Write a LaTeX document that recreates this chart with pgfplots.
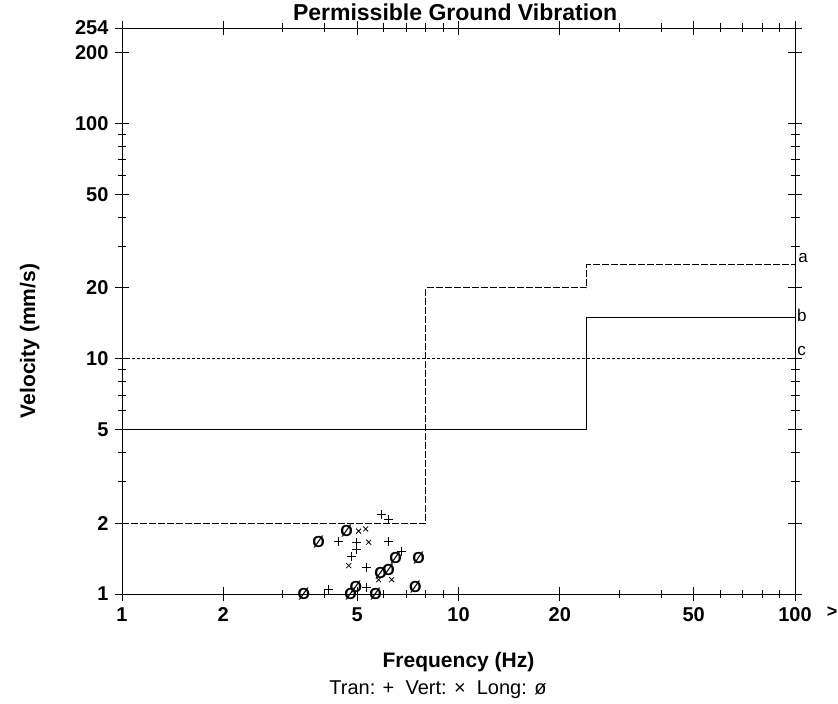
\documentclass[border=0pt]{standalone}
\usepackage{fontspec}
\setmainfont{Liberation Sans}
\usepackage{pgfplots}
\pgfplotsset{compat=1.18}

\begin{document}
\begin{tikzpicture}
\path[use as bounding box] (-122pt,-110pt) rectangle (716pt,594pt);
\begin{loglogaxis}[
	at={(0pt,0pt)}, anchor=south west,
	scale only axis, width=673pt, height=566pt,
	xmin=1, xmax=100, ymin=1, ymax=254,
	xtick={1,2,5,10,20,50,100}, xticklabels={1,2,5,10,20,50,100},
	minor xtick={3,4,6,7,8,9,30,40,60,70,80,90},
	ytick={1,2,5,10,20,50,100,200,254},
	yticklabels={1,2,5,10,20,50,100,200,254},
	minor ytick={3,4,6,7,8,9,30,40,60,70,80,90},
	tick align=center, major tick length=14pt, minor tick length=9pt,
	every tick/.style={black, line width=0.8pt},
	axis line style={line width=0.9pt},
	tick label style={font=\fontsize{20}{22}\selectfont\bfseries},
	yticklabel style={xshift=-3pt},
	xticklabel style={yshift=-3pt},
	title={Permissible Ground Vibration},
	title style={font=\fontsize{23}{26}\selectfont\bfseries,
		at={(rel axis cs:0.495,1.0018)}, anchor=base},
	xlabel={Frequency (Hz)},
	xlabel style={font=\fontsize{21}{24}\selectfont\bfseries,
		at={(rel axis cs:0.5,-0.12)}, anchor=center},
	ylabel={Velocity (mm/s)},
	ylabel style={font=\fontsize{21}{24}\selectfont\bfseries,
		at={(rel axis cs:-0.137,0.447)}, anchor=center},
	clip mode=individual,
]
% limit curves
\addplot[black, line width=1pt, dash pattern=on 7pt off 2pt] coordinates {
	(1,2) (8,2) (8,20) (24,20) (24,25) (100,25)};
\addplot[black, line width=1pt] coordinates {
	(1,5) (24,5) (24,15) (100,15)};
\addplot[black, line width=1pt, dash pattern=on 3pt off 2pt] coordinates {
	(1,10) (100,10)};

% Tran
\addplot[only marks, mark=+, mark size=4.5pt, mark options={black, line width=1pt}] coordinates {
	(5.91,2.18) (6.20,2.07) (4.40,1.67) (4.98,1.66) (6.20,1.67)
	(4.98,1.55) (4.81,1.45) (6.77,1.51) (5.33,1.30) (4.11,1.05) (5.33,1.07)};
% Vert
\addplot[only marks, mark=x, mark size=3.5pt, mark options={black, line width=0.8pt}] coordinates {
	(5.05,1.85) (5.30,1.89) (5.41,1.66) (6.33,1.15) (5.79,1.15) (4.72,1.32)};
% Long
\addplot[only marks, mark=text, text mark={Ø}, text mark as node=true,
	text mark style={font=\fontsize{16}{16}\selectfont\bfseries, inner sep=0pt}]
	coordinates {
	(4.65,1.85) (3.84,1.67) (6.50,1.42) (7.61,1.42) (5.87,1.23) (6.20,1.26)
	(3.47,1.0) (4.95,1.07) (4.78,1.0) (5.67,1.0) (7.45,1.07)};

\node[font=\fontsize{17}{18}\selectfont] at (rel axis cs:1.012,0.594) {a};
\node[font=\fontsize{17}{18}\selectfont] at (rel axis cs:1.010,0.493) {b};
\node[font=\fontsize{17}{18}\selectfont] at (rel axis cs:1.010,0.429) {c};
\node[font=\fontsize{18}{20}\selectfont\bfseries] at (rel axis cs:1.055,-0.032) {>};
\node[font=\fontsize{20}{22}\selectfont] at (rel axis cs:0.4695,-0.1696)
	{Tran: +\ \ Vert: ×\ \ Long: ø};
\end{loglogaxis}
\end{tikzpicture}
\end{document}
